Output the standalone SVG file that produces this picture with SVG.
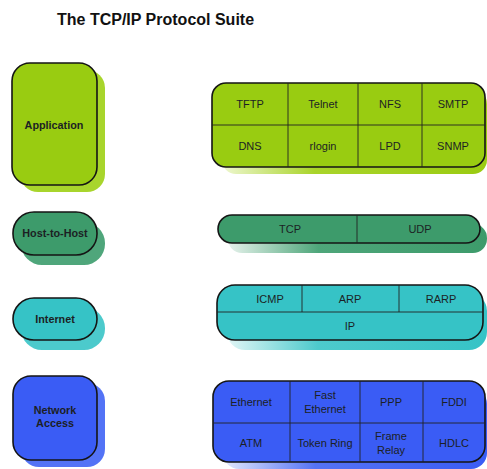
<svg xmlns="http://www.w3.org/2000/svg" width="487" height="469" viewBox="0 0 487 469">
<style>
text{font-family:"Liberation Sans",Arial,sans-serif;text-anchor:middle;fill:#1c1f24}
.t{font-size:16px;font-weight:bold;text-anchor:start;fill:#111}
.l{font-size:10.8px;font-weight:bold}
.c{font-size:11px}
.b{stroke:#151515;stroke-width:1.6}
.d{stroke:#222;stroke-width:0.9;fill:none}
</style>
<defs>
<linearGradient id="gA" x1="0" x2="1" y1="0" y2="0"><stop offset="0" stop-color="#eef7d0"/><stop offset="0.35" stop-color="#a9d42a"/><stop offset="1" stop-color="#9acb12"/></linearGradient>
<linearGradient id="gH" x1="0" x2="1"><stop offset="0" stop-color="#e6f2ec"/><stop offset="0.35" stop-color="#4ea67a"/><stop offset="1" stop-color="#3d9b6b"/></linearGradient>
<linearGradient id="gI" x1="0" x2="1"><stop offset="0" stop-color="#e2f6f6"/><stop offset="0.35" stop-color="#4dcacc"/><stop offset="1" stop-color="#36c3c6"/></linearGradient>
<linearGradient id="gN" x1="0" x2="1"><stop offset="0" stop-color="#e3e8fd"/><stop offset="0.35" stop-color="#5573f5"/><stop offset="1" stop-color="#3a5cf5"/></linearGradient>
</defs>
<text class="t" x="57" y="25">The TCP/IP Protocol Suite</text>

<g id="application">
<rect x="20" y="70" width="85" height="122" rx="18" fill="#a8d52c"/>
<rect class="b" x="12" y="63" width="85" height="122" rx="18" fill="#99cc11"/>
<text class="l" x="54" y="129">Application</text>
</g>
<g id="host-to-host">
<rect x="21" y="222" width="84" height="43" rx="21" fill="#4fa67b"/>
<rect class="b" x="13" y="212" width="84" height="43" rx="21" fill="#3d9b6b"/>
<text class="l" x="55" y="237">Host-to-Host</text>
</g>
<g id="internet">
<rect x="21" y="307" width="84" height="43" rx="21" fill="#4ccacc"/>
<rect class="b" x="13" y="298" width="84" height="42" rx="21" fill="#36c3c6"/>
<text class="l" x="55" y="323">Internet</text>
</g>
<g id="network-access">
<rect x="21" y="383" width="84" height="84" rx="18" fill="#5373f6"/>
<rect class="b" x="13" y="376" width="84" height="84" rx="18" fill="#3a5cf5"/>
<text class="l" x="55" y="414">Network</text>
<text class="l" x="55" y="427">Access</text>
</g>

<g id="app-protocols">
<rect x="222" y="90" width="265" height="84" rx="14" fill="url(#gA)"/>
<rect class="b" x="212" y="83" width="273" height="84" rx="14" fill="#99cc11"/>
<path class="d" d="M212 125H485M288 83V167M358 83V167M422 83V167"/>
<text class="c" x="250" y="108">TFTP</text>
<text class="c" x="323" y="108">Telnet</text>
<text class="c" x="390" y="108">NFS</text>
<text class="c" x="453" y="108">SMTP</text>
<text class="c" x="250" y="150">DNS</text>
<text class="c" x="323" y="150">rlogin</text>
<text class="c" x="390" y="150">LPD</text>
<text class="c" x="453" y="150">SNMP</text>
</g>
<g id="transport-protocols">
<rect x="228" y="224" width="259" height="29" rx="14" fill="url(#gH)"/>
<rect class="b" x="218" y="215" width="262" height="28" rx="14" fill="#3d9b6b"/>
<path class="d" d="M357 215V243"/>
<text class="c" x="290" y="233">TCP</text>
<text class="c" x="420" y="233">UDP</text>
</g>
<g id="internet-protocols">
<rect x="227" y="293" width="260" height="57" rx="18" fill="url(#gI)"/>
<rect class="b" x="217" y="285" width="266" height="55" rx="18" fill="#36c3c6"/>
<path class="d" d="M217 312H483M302 285V312M399 285V312"/>
<text class="c" x="270" y="303">ICMP</text>
<text class="c" x="350" y="303">ARP</text>
<text class="c" x="441" y="303">RARP</text>
<text class="c" x="350" y="330">IP</text>
</g>
<g id="network-protocols">
<rect x="223" y="388" width="264" height="81" rx="16" fill="url(#gN)"/>
<rect class="b" x="213" y="381" width="272" height="81" rx="16" fill="#3a5cf5"/>
<path class="d" d="M213 423H485M290 381V462M360 381V462M423 381V462"/>
<text class="c" x="251" y="406">Ethernet</text>
<text class="c" x="325" y="399">Fast</text>
<text class="c" x="325" y="413">Ethernet</text>
<text class="c" x="391" y="406">PPP</text>
<text class="c" x="454" y="406">FDDI</text>
<text class="c" x="251" y="447">ATM</text>
<text class="c" x="325" y="447">Token Ring</text>
<text class="c" x="391" y="440">Frame</text>
<text class="c" x="391" y="454">Relay</text>
<text class="c" x="454" y="447">HDLC</text>
</g>
</svg>
